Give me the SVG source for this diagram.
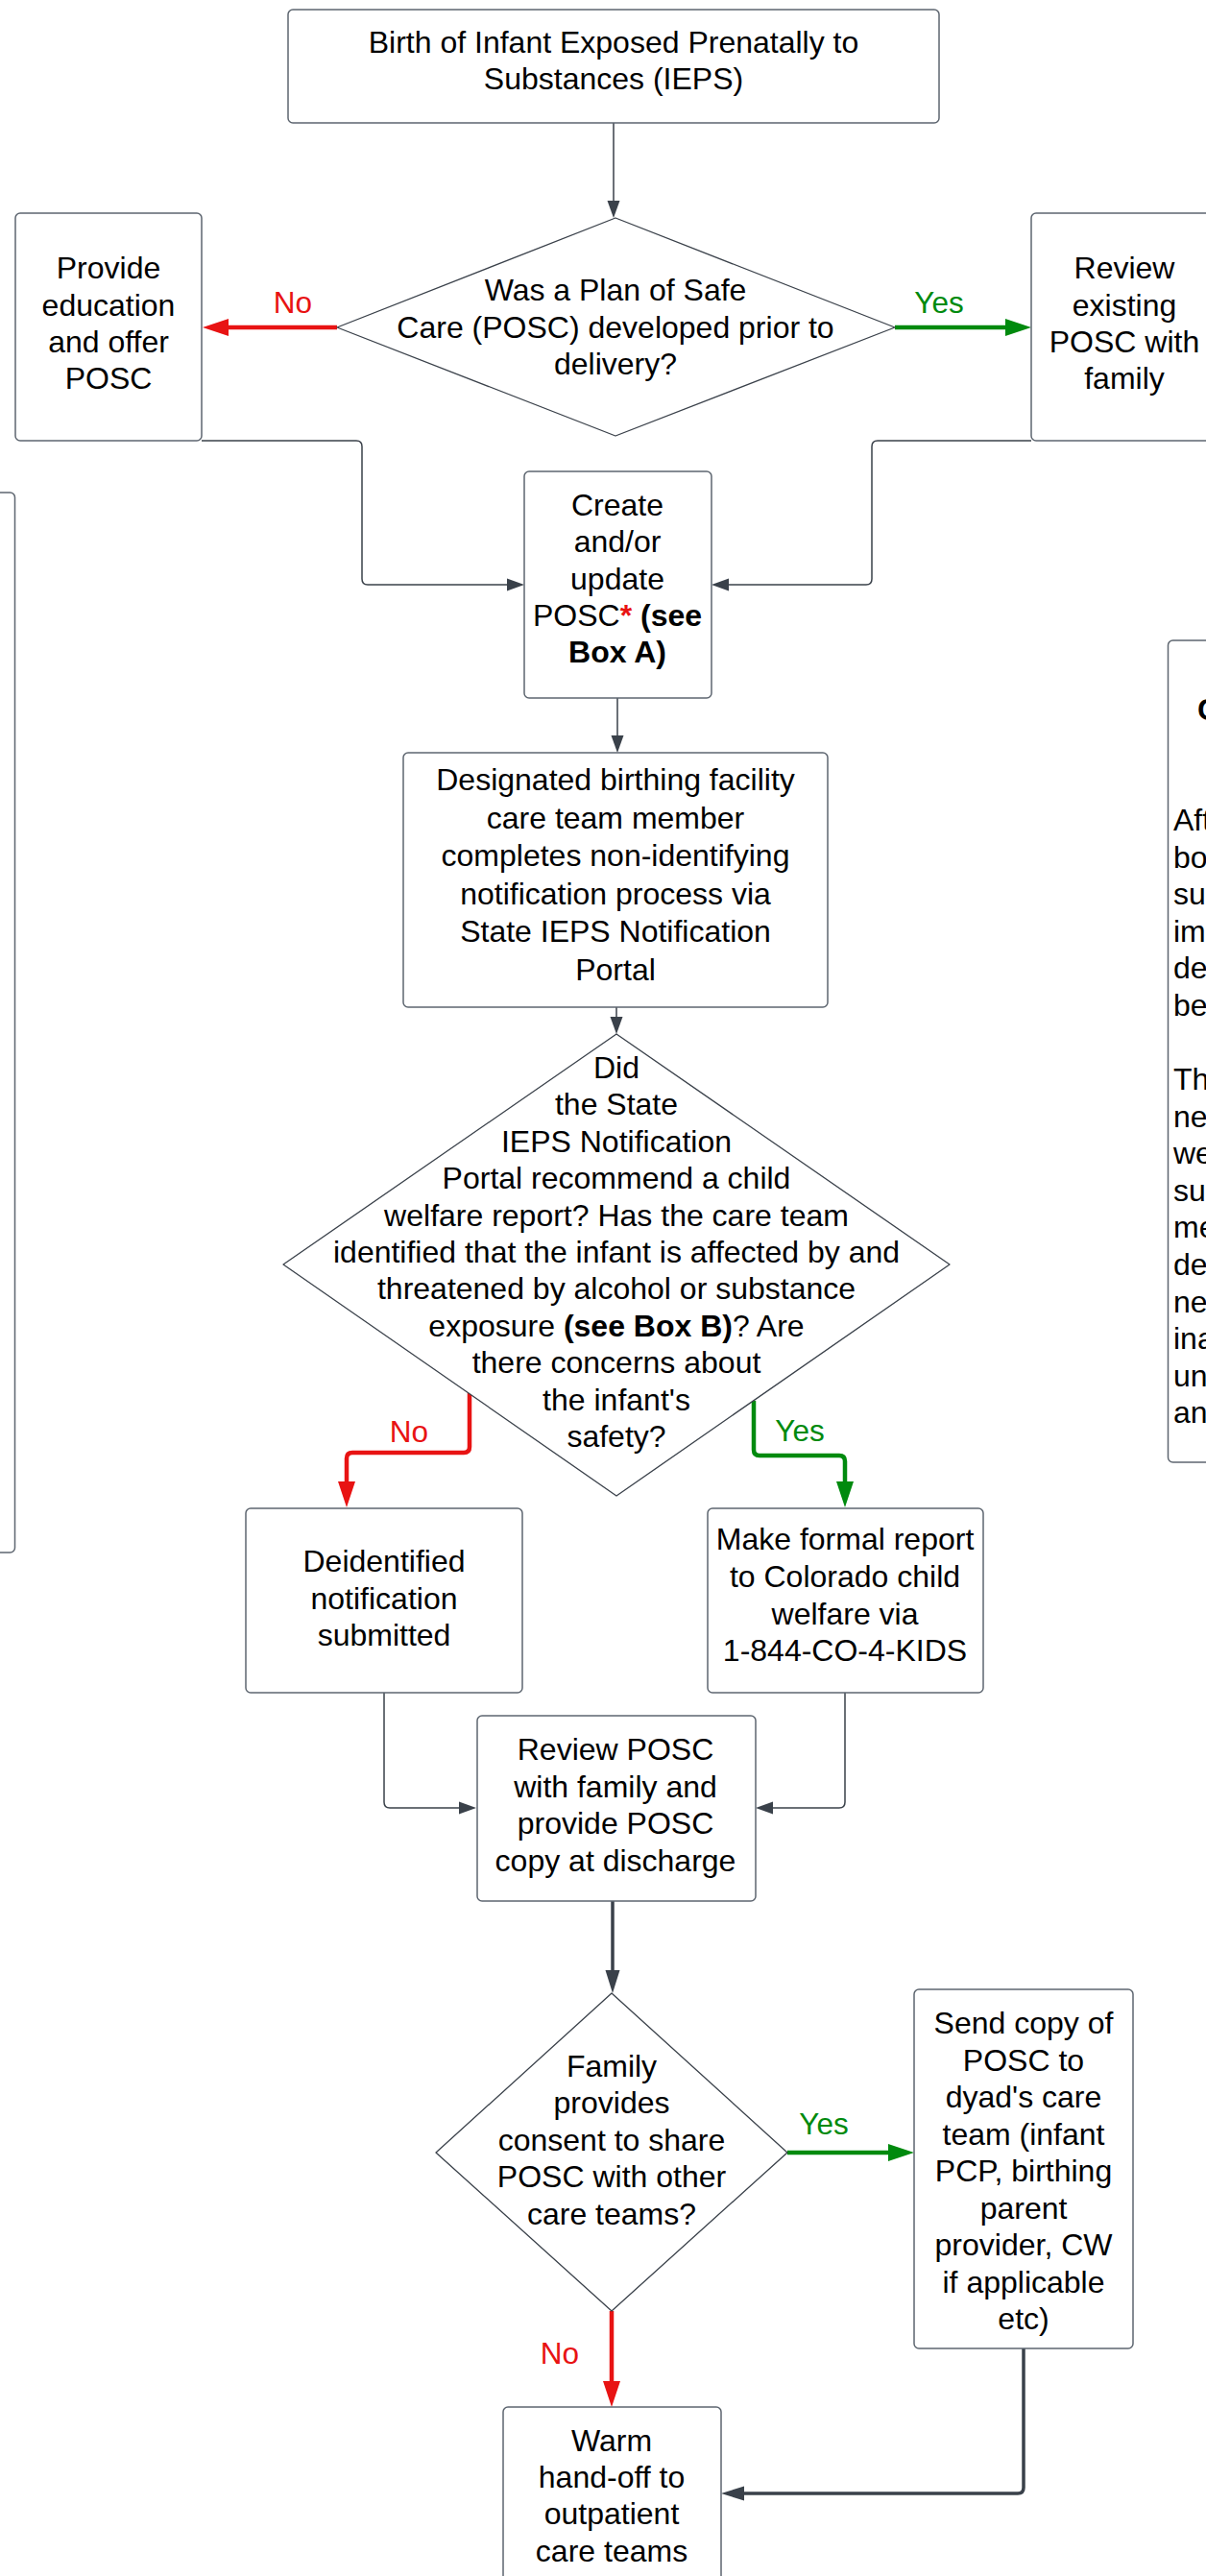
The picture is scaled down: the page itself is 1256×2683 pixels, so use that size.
<svg xmlns="http://www.w3.org/2000/svg" width="1256" height="2683" viewBox="0 0 1256 2683">
<style>
.box{fill:#fff;stroke:#5E6670;stroke-width:1.5}
.dia{fill:#fff;stroke:#3A414A;stroke-width:1.3;stroke-linejoin:round}
.t{font-family:"Liberation Sans",Arial,sans-serif;font-size:32px;fill:#000;text-anchor:middle}
.tl{font-family:"Liberation Sans",Arial,sans-serif;font-size:32px;fill:#000;text-anchor:start}
.b{font-weight:bold}
.lr{font-family:"Liberation Sans",Arial,sans-serif;font-size:31.5px;fill:#E81313;text-anchor:middle}
.lg{font-family:"Liberation Sans",Arial,sans-serif;font-size:31.5px;fill:#008A0E;text-anchor:middle}
.cg{fill:none;stroke:#3A414A;stroke-width:1.5}
.cgt{fill:none;stroke:#3A414A;stroke-width:3.5}
.cr{fill:none;stroke:#E81313;stroke-width:4.5}
.cgr{fill:none;stroke:#008A0E;stroke-width:4.5}
</style>
<defs>
<marker id="mg" markerUnits="userSpaceOnUse" markerWidth="18" markerHeight="14" refX="0" refY="7" orient="auto"><path d="M0,0.5 L18,7 L0,13.5 z" fill="#3A414A"/></marker>
<marker id="mgt" markerUnits="userSpaceOnUse" markerWidth="24" markerHeight="16" refX="0" refY="8" orient="auto"><path d="M0,0.5 L24,8 L0,15.5 z" fill="#3A414A"/></marker>
<marker id="mr" markerUnits="userSpaceOnUse" markerWidth="27" markerHeight="18" refX="0" refY="9" orient="auto"><path d="M0,0 L27,9 L0,18 z" fill="#E81313"/></marker>
<marker id="mgr" markerUnits="userSpaceOnUse" markerWidth="27" markerHeight="18" refX="0" refY="9" orient="auto"><path d="M0,0 L27,9 L0,18 z" fill="#008A0E"/></marker>
</defs>

<g id="connectors">
<path class="cg" d="M639,128 V209" marker-end="url(#mg)"/>
<path class="cr" d="M351,341 H238" marker-end="url(#mr)"/>
<path class="cgr" d="M932,341 H1047" marker-end="url(#mgr)"/>
<path class="cg" d="M210,459 H371 Q377,459 377,465 V603 Q377,609 383,609 H528" marker-end="url(#mg)"/>
<path class="cg" d="M1074,459 H914 Q908,459 908,465 V603 Q908,609 902,609 H759" marker-end="url(#mg)"/>
<path class="cg" d="M643,727 V766" marker-end="url(#mg)"/>
<path class="cg" d="M642,1049 V1059" marker-end="url(#mg)"/>
<path class="cr" d="M489,1451 V1507 Q489,1513 483,1513 H367 Q361,1513 361,1519 V1543" marker-end="url(#mr)"/>
<path class="cgr" d="M785,1459 V1510 Q785,1516 791,1516 H874 Q880,1516 880,1522 V1543" marker-end="url(#mgr)"/>
<path class="cg" d="M400,1763 V1877 Q400,1883 406,1883 H478" marker-end="url(#mg)"/>
<path class="cg" d="M880,1763 V1877 Q880,1883 874,1883 H805" marker-end="url(#mg)"/>
<path class="cgt" d="M638,1980 V2052" marker-end="url(#mgt)"/>
<path class="cgr" d="M820,2242 H925" marker-end="url(#mgr)"/>
<path class="cr" d="M637,2407 V2480" marker-end="url(#mr)"/>
<path class="cgt" d="M1066,2446 V2591 Q1066,2597 1060,2597 H775" marker-end="url(#mgt)"/>
<text class="lr" x="305" y="326">No</text>
<text class="lg" x="978" y="326">Yes</text>
<text class="lr" x="426" y="1502">No</text>
<text class="lg" x="833" y="1501">Yes</text>
<text class="lg" x="858" y="2223">Yes</text>
<text class="lr" x="583" y="2462">No</text>
</g>

<g id="n-birth">
<rect class="box" x="300" y="10" width="678" height="118" rx="5"/>
<text class="t" x="639" y="55">Birth of Infant Exposed Prenatally to</text>
<text class="t" x="639" y="93">Substances (IEPS)</text>
</g>

<g id="n-posc-q">
<path class="dia" d="M641,227 L932,341 L641,454 L351,341 Z"/>
<text class="t" x="641" y="313">Was a Plan of Safe</text>
<text class="t" x="641" y="352">Care (POSC) developed prior to</text>
<text class="t" x="641" y="390">delivery?</text>
</g>

<g id="n-provide">
<rect class="box" x="16" y="222" width="194" height="237" rx="5"/>
<text class="t" x="113" y="290">Provide</text>
<text class="t" x="113" y="329">education</text>
<text class="t" x="113" y="367">and offer</text>
<text class="t" x="113" y="405">POSC</text>
</g>

<g id="n-review-existing">
<rect class="box" x="1074" y="222" width="194" height="237" rx="5"/>
<text class="t" x="1171" y="290">Review</text>
<text class="t" x="1171" y="329">existing</text>
<text class="t" x="1171" y="367">POSC with</text>
<text class="t" x="1171" y="405">family</text>
</g>

<g id="n-left-panel">
<rect class="box" x="-40" y="513" width="55.5" height="1104" rx="5"/>
</g>

<g id="n-right-panel">
<rect class="box" x="1216.5" y="667" width="80" height="856" rx="5"/>
<text class="tl b" x="1247" y="750">C</text>
<text class="tl" x="1222" y="865">Aft</text>
<text class="tl" x="1222" y="904">bo</text>
<text class="tl" x="1222" y="942">su</text>
<text class="tl" x="1222" y="981">im</text>
<text class="tl" x="1222" y="1019">de</text>
<text class="tl" x="1222" y="1058">be</text>
<text class="tl" x="1222" y="1135">Th</text>
<text class="tl" x="1222" y="1174">ne</text>
<text class="tl" x="1222" y="1212">we</text>
<text class="tl" x="1222" y="1251">su</text>
<text class="tl" x="1222" y="1289">me</text>
<text class="tl" x="1222" y="1328">de</text>
<text class="tl" x="1222" y="1367">ne</text>
<text class="tl" x="1222" y="1405">ina</text>
<text class="tl" x="1222" y="1444">un</text>
<text class="tl" x="1222" y="1482">an</text>
</g>

<g id="n-create">
<rect class="box" x="546" y="491" width="195" height="236" rx="5"/>
<text class="t" x="643" y="537">Create</text>
<text class="t" x="643" y="575">and/or</text>
<text class="t" x="643" y="614">update</text>
<text class="t" x="643" y="652">POSC<tspan class="b" fill="#E81313">*</tspan><tspan class="b"> (see</tspan></text>
<text class="t b" x="643" y="690">Box A)</text>
</g>

<g id="n-designated">
<rect class="box" x="420" y="784" width="442" height="265" rx="5"/>
<text class="t" x="641" y="823">Designated birthing facility</text>
<text class="t" x="641" y="863">care team member</text>
<text class="t" x="641" y="902">completes non-identifying</text>
<text class="t" x="641" y="942">notification process via</text>
<text class="t" x="641" y="981">State IEPS Notification</text>
<text class="t" x="641" y="1021">Portal</text>
</g>

<g id="n-report-q">
<path class="dia" d="M642,1077 L989,1317 L642,1558 L295,1317 Z"/>
<text class="t" x="642" y="1123">Did</text>
<text class="t" x="642" y="1161">the State</text>
<text class="t" x="642" y="1200">IEPS Notification</text>
<text class="t" x="642" y="1238">Portal recommend a child</text>
<text class="t" x="642" y="1277">welfare report? Has the care team</text>
<text class="t" x="642" y="1315">identified that the infant is affected by and</text>
<text class="t" x="642" y="1353">threatened by alcohol or substance</text>
<text class="t" x="642" y="1392">exposure <tspan class="b">(see Box B)</tspan>? Are</text>
<text class="t" x="642" y="1430">there concerns about</text>
<text class="t" x="642" y="1469">the infant's</text>
<text class="t" x="642" y="1507">safety?</text>
</g>

<g id="n-deidentified">
<rect class="box" x="256" y="1571" width="288" height="192" rx="5"/>
<text class="t" x="400" y="1637">Deidentified</text>
<text class="t" x="400" y="1676">notification</text>
<text class="t" x="400" y="1714">submitted</text>
</g>

<g id="n-formal">
<rect class="box" x="737" y="1571" width="287" height="192" rx="5"/>
<text class="t" x="880" y="1614">Make formal report</text>
<text class="t" x="880" y="1653">to Colorado child</text>
<text class="t" x="880" y="1692">welfare via</text>
<text class="t" x="880" y="1730">1-844-CO-4-KIDS</text>
</g>

<g id="n-review-discharge">
<rect class="box" x="497" y="1787" width="290" height="193" rx="5"/>
<text class="t" x="641" y="1833">Review POSC</text>
<text class="t" x="641" y="1872">with family and</text>
<text class="t" x="641" y="1910">provide POSC</text>
<text class="t" x="641" y="1949">copy at discharge</text>
</g>

<g id="n-consent-q">
<path class="dia" d="M637,2076 L820,2242 L637,2407 L454,2242 Z"/>
<text class="t" x="637" y="2163">Family</text>
<text class="t" x="637" y="2201">provides</text>
<text class="t" x="637" y="2240">consent to share</text>
<text class="t" x="637" y="2278">POSC with other</text>
<text class="t" x="637" y="2317">care teams?</text>
</g>

<g id="n-send">
<rect class="box" x="952" y="2072" width="228" height="374" rx="5"/>
<text class="t" x="1066" y="2118">Send copy of</text>
<text class="t" x="1066" y="2157">POSC to</text>
<text class="t" x="1066" y="2195">dyad's care</text>
<text class="t" x="1066" y="2234">team (infant</text>
<text class="t" x="1066" y="2272">PCP, birthing</text>
<text class="t" x="1066" y="2311">parent</text>
<text class="t" x="1066" y="2349">provider, CW</text>
<text class="t" x="1066" y="2388">if applicable</text>
<text class="t" x="1066" y="2426">etc)</text>
</g>

<g id="n-warm">
<rect class="box" x="524" y="2507" width="227" height="200" rx="5"/>
<text class="t" x="637" y="2553">Warm</text>
<text class="t" x="637" y="2591">hand-off to</text>
<text class="t" x="637" y="2629">outpatient</text>
<text class="t" x="637" y="2668">care teams</text>
</g>
</svg>
